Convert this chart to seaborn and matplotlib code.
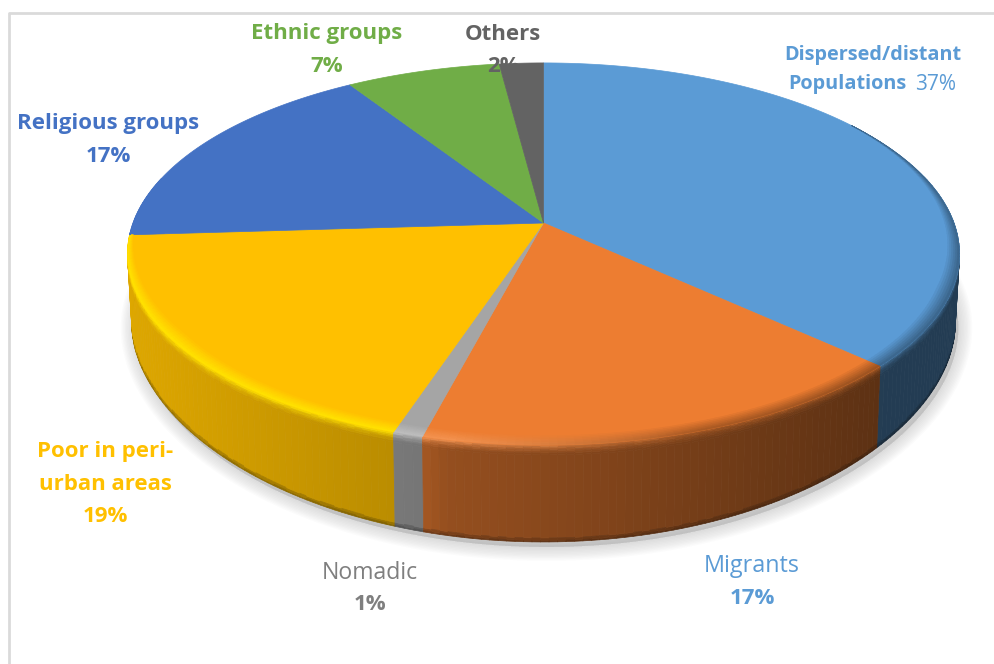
import numpy as np
import matplotlib
matplotlib.use("Agg")
import matplotlib.pyplot as plt
from matplotlib.collections import PolyCollection
import seaborn as sns

# Shares of each population group, clockwise from twelve o'clock
categories = ["Dispersed/distant Populations", "Migrants", "Nomadic",
              "Poor in peri-urban areas", "Religious groups",
              "Ethnic groups", "Others"]
shares = [37, 17, 1, 19, 17, 7, 2]

slice_hex = ["#5B9BD5", "#ED7D31", "#A5A5A5", "#FFC000", "#4472C4", "#70AD47", "#636363"]
highlight_hex = ["#5B9BD5", "#F3924F", "#BDBDBD", "#FFE100", "#4472C4", "#70AD47", "#636363"]

sns.set_theme(style="white")
plt.rcParams["font.family"] = ["Open Sans", "DejaVu Sans"]
palette = sns.color_palette(slice_hex)
highlights = sns.color_palette(highlight_hex)

# Tilted-disc geometry, in figure pixels
CX, CY = 543.5, 223.0
AX_R, AY_R, PERSP = 410.5, 186.0, 0.162


def project(theta, r=1.0):
    u, v = r * np.sin(theta), -r * np.cos(theta)
    w = 1 - PERSP * v
    return CX + AX_R * u / w, CY + AY_R * v / w


def wall_depth(theta):
    v = -np.cos(theta)
    return 68 + 29 * np.clip(v, 0, None) ** 2


def bottom_ring(theta):
    x, y = project(theta)
    return CX + (x - CX) * 0.99, y + wall_depth(theta)


def wall_shade(x):
    return np.interp(x, [128, 415, 445, 885, 960], [0.87, 0.72, 0.63, 0.39, 0.39])


def mix(a, b, t):
    return tuple((1 - t) * np.array(a) + t * np.array(b))


fig = plt.figure(figsize=(9.95, 6.64), dpi=100)
ax = fig.add_axes([0, 0, 1, 1])
ax.set_xlim(0, 995)
ax.set_ylim(664, 0)
ax.axis("off")

# Outer chart border: only the top and left edges fall inside the canvas
ax.plot([9, 9, 995], [664, 13, 13], color="#DADADA", lw=2, zorder=1)

# Soft drop shadow beneath the disc
ring_t = np.linspace(0, 2 * np.pi, 361)
ring_x, ring_y = bottom_ring(ring_t)
for stroke in np.linspace(2, 20, 10):
    ax.fill(ring_x + 3, ring_y + 5, fc="#707070", ec="#707070", lw=stroke,
            alpha=0.025, zorder=2, joinstyle="round")

edges = np.cumsum([0] + shares) / sum(shares) * 2 * np.pi

wall_polys, wall_cols, wall_keys = [], [], []
top_polys, top_cols = [], []
band_polys, band_cols = [], []

for i, share in enumerate(shares):
    base = palette[i]
    start, stop = edges[i], edges[i + 1]
    n = max(2, int(np.degrees(stop - start)))
    t = np.linspace(start, stop, n + 1)

    # Flat top face of the slice
    px, py = project(t)
    top_polys.append(np.column_stack([np.r_[CX, px], np.r_[CY, py]]))
    top_cols.append(base)

    for a, b in zip(t[:-1], t[1:]):
        mid = 0.5 * (a + b)
        deg = np.degrees(mid)
        xa, ya = project(a)
        xb, yb = project(b)
        xm = 0.5 * (xa + xb)
        shade_t = np.clip((xm - 450) / 250, 0, 1)
        wall = tuple(np.array(base) * wall_shade(xm))
        rim = mix(highlights[i], mix(base, wall, 0.55), shade_t)

        # Bevel on the top face, widening towards the viewer
        s = np.interp(deg, [55, 110, 235, 266.4, 267], [0, 1, 1, 0.25, 0])
        if s > 0:
            radii = np.linspace(1 - 0.035 * s, 1, 7)
            for k in range(6):
                xa0, ya0 = project(a, radii[k])
                xb0, yb0 = project(b, radii[k])
                xa1, ya1 = project(a, radii[k + 1])
                xb1, yb1 = project(b, radii[k + 1])
                band_polys.append([(xa0, ya0), (xb0, yb0), (xb1, yb1), (xa1, ya1)])
                band_cols.append(mix(base, rim, (k + 1) / 6))

        # Side wall, only on the part of the rim facing the viewer
        if -np.cos(mid) > -0.25:
            xba, yba = bottom_ring(a)
            xbb, ybb = bottom_ring(b)
            depth = 0.5 * (yba - ya + ybb - yb)
            stops = [0, 1.5, 3, 4.5, 6, 8, 10, depth - 4, depth - 1.5, depth]
            fade = [0.15, 0.4, 0.6, 0.75, 0.88, 1, 1, 0.82, 0.7]
            for k in range(len(stops) - 1):
                f0, f1 = stops[k] / depth, stops[k + 1] / depth
                quad = [(xa + (xba - xa) * f0, ya + (yba - ya) * f0),
                        (xb + (xbb - xb) * f0, yb + (ybb - yb) * f0),
                        (xb + (xbb - xb) * f1, yb + (ybb - yb) * f1),
                        (xa + (xba - xa) * f1, ya + (yba - ya) * f1)]
                if k < 6:
                    col = mix(rim, wall, fade[k])
                else:
                    col = tuple(np.array(wall) * fade[k] if k > 6 else wall)
                wall_polys.append(quad)
                wall_cols.append(col)
                wall_keys.append(-np.cos(mid))

order = np.argsort(wall_keys)
ax.add_collection(PolyCollection([wall_polys[j] for j in order],
                                 facecolors=[wall_cols[j] for j in order],
                                 edgecolors="face", linewidths=0.5, zorder=3))
ax.add_collection(PolyCollection(top_polys, facecolors=top_cols,
                                 edgecolors="face", linewidths=0.5, zorder=4))
ax.add_collection(PolyCollection(band_polys, facecolors=band_cols,
                                 edgecolors="face", linewidths=0.4, zorder=5))


# Data labels
def label(x, y, text, color, size, weight="bold", ha="center"):
    ax.text(x, y, text, color=color, fontsize=size, fontweight=weight,
            ha=ha, va="center", zorder=6)


label(873, 55, "Dispersed/distant", slice_hex[0], 14.3)
label(907, 84, "Populations", slice_hex[0], 14.3, ha="right")
label(915, 84, f"{shares[0]}%", slice_hex[0], 15, weight="normal", ha="left")

label(752, 566, "Migrants", slice_hex[0], 16.8, weight="normal")
label(752, 599, f"{shares[1]}%", slice_hex[0], 16)

label(370, 573, "Nomadic", "#7F7F7F", 16.6, weight="normal")
label(370, 605, f"{shares[2]}%", "#7F7F7F", 16)

label(105, 451, "Poor in peri-", slice_hex[3], 16)
label(105, 484, "urban areas", slice_hex[3], 16)
label(105, 516, f"{shares[3]}%", slice_hex[3], 16)

label(108, 124, "Religious groups", slice_hex[4], 16)
label(108, 156, f"{shares[4]}%", slice_hex[4], 16)

label(327, 34, "Ethnic groups", slice_hex[5], 16)
label(327, 67, f"{shares[5]}%", slice_hex[5], 16)

label(503, 34, "Others", slice_hex[6], 16)
label(503, 67, f"{shares[6]}%", slice_hex[6], 16)

fig.savefig("out.png", dpi=100, facecolor="white")
